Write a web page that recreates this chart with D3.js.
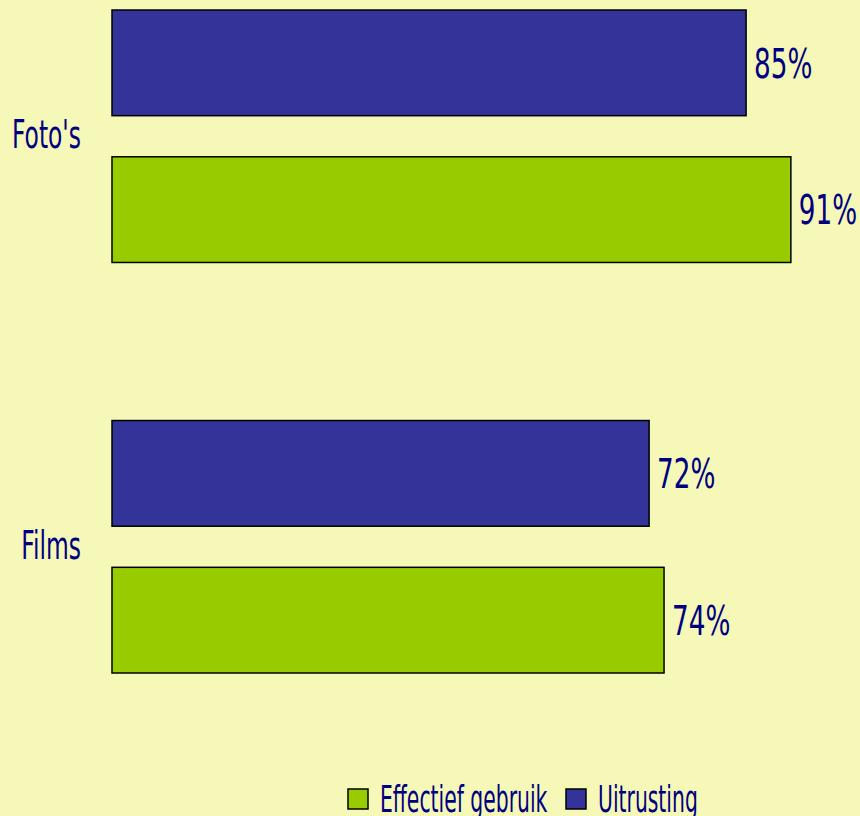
<!DOCTYPE html>
<html><head><meta charset="utf-8">
<script src="https://cdn.jsdelivr.net/npm/d3@7"></script>
<style>
html,body{margin:0;padding:0;background:#f5f8b6;}
svg{display:block;}
text{font-family:"DejaVu Sans",sans-serif;fill:#000080;}
</style></head>
<body>
<svg id="chart" width="860" height="816"></svg>
<script>
const categories = ["Foto's", "Films"];
const seriesNames = ["Uitrusting", "Effectief gebruik"];
const uitrusting = [85, 72];
const effectief = [91, 74];
const legendOrder = ["Effectief gebruik", "Uitrusting"];
const colors = {"Uitrusting": "#333399", "Effectief gebruik": "#99cc00"};

const values = {"Uitrusting": uitrusting, "Effectief gebruik": effectief};
const rows = categories.map((c, i) => ({cat: c, vals: seriesNames.map(s => ({s, v: values[s][i]}))}));

const svg = d3.select("#chart");
const x = d3.scaleLinear().domain([0, 100]).range([112, 858]);
const y0 = d3.scaleBand().domain(categories).range([10, 673]).paddingInner(0.385).paddingOuter(0);
const y1 = d3.scaleBand().domain(seriesNames).range([0, y0.bandwidth()]).paddingInner(0.28).paddingOuter(0);

const g = svg.selectAll("g.cat").data(rows).join("g")
  .attr("class", "cat")
  .attr("transform", d => `translate(0,${y0(d.cat)})`);

g.selectAll("rect").data(d => d.vals).join("rect")
  .attr("x", x(0))
  .attr("y", d => y1(d.s))
  .attr("width", d => x(d.v) - x(0))
  .attr("height", y1.bandwidth())
  .attr("fill", d => colors[d.s])
  .attr("stroke", "#000")
  .attr("stroke-width", 1.5);

g.selectAll("text.val").data(d => d.vals).join("text")
  .attr("class", "val")
  .attr("transform", d => `translate(${x(d.v) + 8},${y1(d.s) + y1.bandwidth() / 2}) scale(0.64,1)`)
  .attr("dy", "0.36em")
  .attr("font-size", 41)
  .text(d => d.v + "%");

// category axis labels
svg.selectAll("text.catlab").data(categories).join("text")
  .attr("class", "catlab")
  .attr("transform", d => `translate(81,${y0(d) + y0.bandwidth() / 2 - 2}) scale(0.6,1)`)
  .attr("dy", "0.36em")
  .attr("text-anchor", "end")
  .attr("font-size", 39)
  .text(d => d);

// legend
const legend = svg.append("g").attr("transform", "translate(348,789)");
const items = [{name: legendOrder[0], x: 0}, {name: legendOrder[1], x: 218}];
const li = legend.selectAll("g").data(items).join("g").attr("transform", d => `translate(${d.x},0)`);
li.append("rect").attr("width", 20).attr("height", 20)
  .attr("fill", d => colors[d.name]).attr("stroke", "#000").attr("stroke-width", 1.5);
li.append("text").attr("transform", "translate(32,23) scale(0.55,1)")
  .attr("font-size", 37).text(d => d.name);
</script>
</body></html>
